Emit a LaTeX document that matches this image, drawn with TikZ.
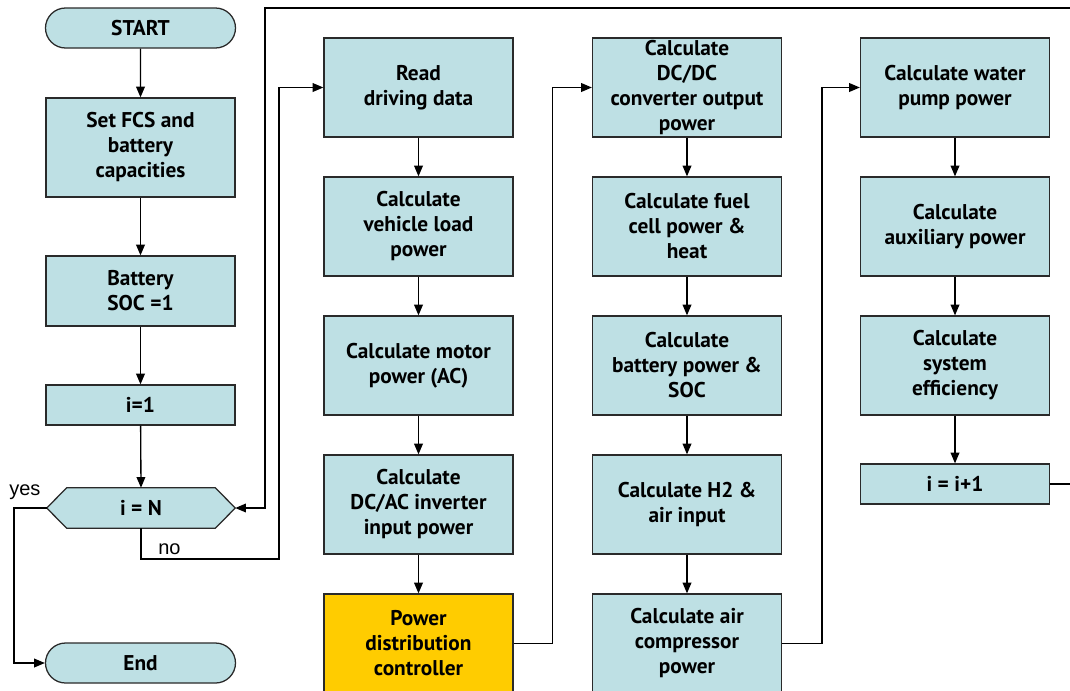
\documentclass[tikz,border=0pt]{standalone}
\usepackage{fontspec}
\setmainfont{PT Sans}
\newfontfamily\yesnofont{Liberation Sans}
\usetikzlibrary{arrows.meta,shapes.misc,calc,backgrounds}
\definecolor{boxblue}{HTML}{BEE0E4}
\definecolor{ctrlyellow}{HTML}{FFCC00}
\definecolor{edge}{HTML}{2A2A2A}
\begin{document}
\begin{tikzpicture}[x=0.75pt,y=-0.75pt,
  base/.style={draw=edge, line width=0.95pt, fill=boxblue, inner sep=0pt, align=center,
    font=\bfseries\fontsize{16}{18.75}\selectfont},
  pbox/.style={base, minimum width=141.75pt, minimum height=74.25pt},
  sbox/.style={base, minimum width=141.75pt, minimum height=30pt},
  term/.style={base, rounded rectangle, minimum width=142.5pt, minimum height=30pt},
  conn/.style={draw=black, line width=1pt},
  arr/.style={conn, -{Triangle[length=8pt,width=6.5pt]}},
  lbl/.style={font=\yesnofont\fontsize{15}{18}\selectfont, inner sep=0pt}
]
\useasboundingbox (0,0) rectangle (1070,690);
\clip (0,0) rectangle (1070,690);

% column 1
\node[term] (start) at (140.5,28) {START};
\node[pbox] (fcs) at (140.5,147.5) {Set FCS and\\battery\\capacities};
\node[base, minimum width=141.75pt, minimum height=52.5pt] (soc) at (140.5,291) {Battery\\SOC =1};
\node[sbox] (i1) at (140.5,405) {i=1};
\node[inner sep=0pt, minimum width=141pt, minimum height=30pt,
  font=\bfseries\fontsize{16}{18.75}\selectfont] (hex) at (141,508) {i = N};
\node[term] (end) at (140.5,663) {End};

% column 2
\node[pbox] (read) at (418.5,87.5) {Read\\driving data};
\node[pbox] (vload) at (418.5,226.5) {Calculate\\vehicle load\\power};
\node[pbox] (motor) at (418.5,365.5) {Calculate motor\\power (AC)};
\node[pbox] (inv) at (418.5,504.5) {Calculate\\DC/AC inverter\\input power};
\node[pbox, fill=ctrlyellow] (pdc) at (418.5,643.5) {Power\\distribution\\controller};

% column 3
\node[pbox] (dcdc) at (687,87.5) {Calculate\\DC/DC\\converter output\\power};
\node[pbox] (fc) at (687,226.5) {Calculate fuel\\cell power \&\\heat};
\node[pbox] (bat) at (687,365.5) {Calculate\\battery power \&\\SOC};
\node[pbox] (h2) at (687,504.5) {Calculate H2 \&\\air input};
\node[pbox] (comp) at (687,643.5) {Calculate air\\compressor\\power};

% column 4
\node[pbox] (pump) at (955,87.5) {Calculate water\\pump power};
\node[pbox] (aux) at (955,226.5) {Calculate\\auxiliary power};
\node[pbox] (eff) at (955,365.5) {Calculate\\system\\efficiency};
\node[sbox] (inc) at (955,484) {i = i+1};

% hexagon outline of the decision node, behind its text
\begin{scope}[on background layer]
\fill[white] (0,0) rectangle (1070,690);
\draw[draw=edge, line width=0.95pt, fill=boxblue]
  (hex.west) -- ($(hex.north west)+(20,0)$) -- ($(hex.north east)+(-20,0)$) -- (hex.east)
  -- ($(hex.south east)+(-20,0)$) -- ($(hex.south west)+(20,0)$) -- cycle;
\end{scope}

% helper coordinates
\coordinate (yesc) at (14,508);
\coordinate (noc) at (279,559);
\coordinate (topc) at (265,8);
\coordinate (rightc) at (1090,484);
\coordinate (riseA) at (552.5,643.5);
\coordinate (riseB) at (822,643.5);

% vertical flow
\draw[arr] (start) -- (fcs);
\draw[arr] (fcs) -- (soc);
\draw[arr] (soc) -- (i1);
\draw[arr] (i1) -- (hex.north);
\draw[arr] (read) -- (vload);
\draw[arr] (vload) -- (motor);
\draw[arr] (motor) -- (inv);
\draw[arr] (inv) -- (pdc);
\draw[arr] (dcdc) -- (fc);
\draw[arr] (fc) -- (bat);
\draw[arr] (bat) -- (h2);
\draw[arr] (h2) -- (comp);
\draw[arr] (pump) -- (aux);
\draw[arr] (aux) -- (eff);
\draw[arr] (eff) -- (inc);

% column links
\draw[arr] (pdc.east) -- (riseA) |- (dcdc.west);
\draw[arr] (comp.east) -- (riseB) |- (pump.west);

% decision branches
\draw[arr] (hex.west) -- (yesc) |- (end.west);
\draw[arr] (hex.south) |- (noc) |- (read.west);
\draw[arr] (inc.east) -- (rightc) |- (topc) |- (hex.east);

\node[lbl, anchor=south west] (yes) at (9,500) {yes};
\node[lbl, anchor=south west] (no) at (158,555) {no};
\end{tikzpicture}
\end{document}
